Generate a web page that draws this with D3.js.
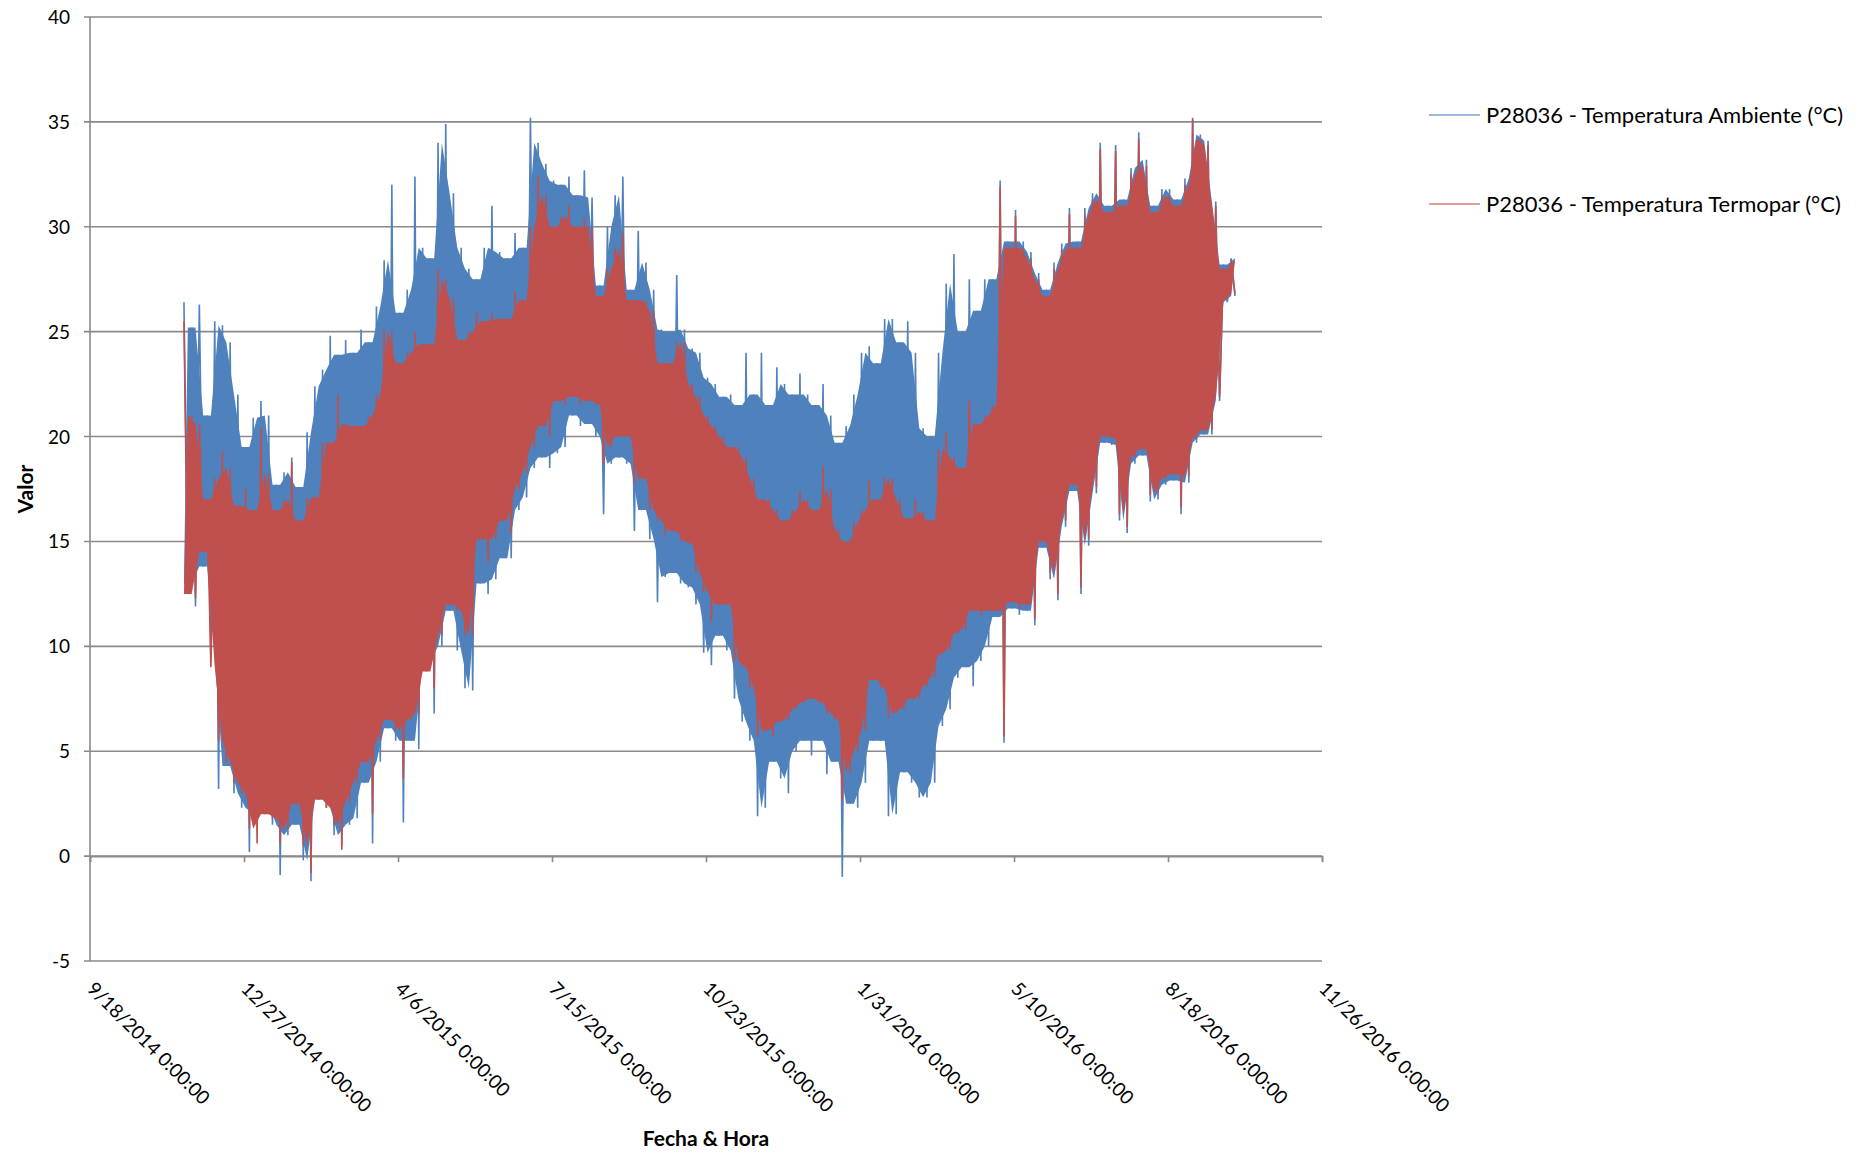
<!DOCTYPE html>
<html>
<head>
<meta charset="utf-8">
<script src="https://cdn.jsdelivr.net/npm/d3@7"></script>
<style>
body{margin:0;background:#fff;}
text{font-family:Lato,"Noto Sans",sans-serif;fill:#000;}
</style>
</head>
<body>
<svg id="chart" width="1865" height="1158"></svg>
<script>
// series sampled every 5 days, max and min in each window
var startDate = "11/18/2014";
var stepDays = 5;

var ambMax = [26.4,25.2,26.3,21.0,25.5,25.3,24.5,22.0,19.5,20.9,
  21.7,21.0,17.7,18.3,19.0,17.6,20.2,22.4,23.2,24.8,
  23.9,24.6,24.0,25.1,24.5,26.2,28.4,32.0,25.9,27.0,
  32.4,29.0,28.5,34.0,34.9,31.6,29.0,28.0,27.5,29.0,
  31.0,28.8,28.5,29.7,29.0,35.2,34.0,33.0,32.2,32.0,
  32.4,31.5,32.7,31.4,27.2,30.0,31.5,32.4,27.0,29.8,
  28.3,27.0,25.1,25.0,27.7,25.1,24.2,24.0,22.8,22.5,
  21.9,22.0,21.5,24.0,22.0,24.0,21.5,23.3,22.5,22.0,
  23.0,22.0,21.5,22.5,21.0,19.7,20.5,22.0,24.0,24.3,
  23.5,25.6,25.6,24.5,25.5,24.0,20.4,20.0,24.0,27.3,
  28.7,25.0,27.5,26.0,27.5,27.5,32.2,29.3,30.8,29.3,
  28.8,27.8,27.0,28.3,29.2,30.9,29.3,30.9,31.6,34.0,
  31.0,33.9,31.3,32.8,34.5,33.2,31.0,31.8,31.8,31.3,
  32.3,35.2,34.4,34.1,31.2,28.2,28.5];
var ambMin = [13.0,11.9,13.8,9.5,3.2,4.3,3.0,2.3,0.2,2.0,
  2.5,1.5,-0.9,1.0,1.5,-0.2,-1.2,2.7,2.3,1.0,
  0.5,1.5,1.8,3.5,0.6,4.5,6.1,5.5,1.6,5.5,
  5.1,9.3,6.8,10.0,11.7,9.8,8.0,7.9,13.0,12.5,
  13.2,14.2,14.2,16.5,17.1,18.5,19.0,18.5,19.2,19.5,
  21.0,20.5,20.6,20.0,16.3,18.7,19.0,18.7,15.5,16.5,
  15.1,12.1,13.3,13.5,13.0,12.8,12.0,9.7,9.1,10.5,
  9.8,7.5,6.4,5.5,1.9,2.3,4.5,3.7,3.0,5.0,
  5.5,4.8,5.5,3.9,4.5,-1.0,2.5,2.3,3.5,5.5,
  5.5,1.9,2.0,4.0,3.5,2.8,2.8,3.5,6.2,7.0,
  8.5,9.0,8.1,9.3,10.0,11.4,5.4,11.8,11.5,11.7,
  11.0,14.7,13.2,12.2,15.7,17.4,12.5,14.8,17.3,19.7,
  19.6,16.0,15.4,18.7,19.1,16.9,17.0,17.7,17.9,16.3,
  17.8,19.7,20.1,20.1,21.7,26.4,26.7];
var termMax = [25.5,21.0,20.6,17.0,18.0,19.3,18.5,16.7,17.5,16.5,
  20.4,18.2,16.5,17.0,18.8,16.0,17.1,17.1,19.7,19.7,
  22.0,20.6,20.5,20.5,21.0,22.0,25.1,25.0,23.5,24.0,
  25.0,24.4,24.4,28.0,27.5,26.6,24.6,25.0,25.9,25.5,
  25.9,25.6,25.6,26.9,26.5,30.0,32.4,31.5,30.0,30.5,
  31.0,30.0,30.4,30.0,26.7,28.0,29.0,29.7,26.5,26.5,
  26.5,26.0,23.5,23.5,24.5,24.5,22.5,21.9,21.0,20.5,
  20.0,19.5,19.5,19.0,18.0,17.0,17.0,16.5,16.0,16.5,
  17.4,17.0,16.5,18.6,17.5,15.6,15.0,15.9,16.5,17.9,
  17.0,18.1,18.0,17.0,16.1,17.0,16.4,16.0,19.4,20.2,
  19.0,18.5,21.7,20.6,21.0,21.5,31.9,29.0,30.5,29.0,
  28.5,27.5,26.7,28.0,28.9,30.6,29.0,30.6,31.3,33.7,
  30.7,33.6,31.0,32.5,34.2,32.9,30.7,31.5,31.5,31.0,
  32.0,35.1,34.2,33.9,31.0,28.0,28.4];
var termMin = [12.5,12.3,14.5,9.0,5.5,4.5,3.5,3.0,1.3,0.6,
  2.0,1.8,0.6,1.3,2.5,0.5,-0.8,2.7,2.3,1.5,
  0.3,2.6,3.5,4.5,2.0,5.5,6.5,6.0,3.7,6.5,
  6.8,8.8,8.0,10.5,12.0,11.7,10.5,10.5,15.1,14.0,
  15.1,16.0,15.4,17.5,18.3,19.5,20.5,20.0,21.7,21.5,
  21.9,21.5,21.7,21.5,18.7,19.5,20.0,20.0,17.8,18.0,
  16.5,16.0,15.3,15.5,15.0,14.9,13.5,12.6,11.2,12.0,
  12.0,9.3,9.0,8.0,5.7,6.0,5.7,6.4,6.5,7.0,
  7.3,7.5,7.3,6.8,6.5,2.6,4.0,5.0,6.0,8.4,
  8.0,6.6,6.8,7.0,7.5,7.5,8.1,8.5,9.6,9.8,
  10.6,10.8,11.7,11.5,11.7,11.7,5.7,12.1,11.8,12.0,
  11.3,15.0,13.5,12.5,16.0,17.7,12.8,15.1,17.6,20.0,
  19.9,16.3,15.7,19.0,19.4,17.2,17.3,18.0,18.2,16.6,
  18.1,19.9,20.3,20.3,21.9,26.5,26.8];

var xTickLabels = ["9/18/2014","12/27/2014","4/6/2015","7/15/2015","10/23/2015",
  "1/31/2016","5/10/2016","8/18/2016","11/26/2016"];
var yTickValues = [-5,0,5,10,15,20,25,30,35,40];
var seriesNames = ["P28036 - Temperatura Ambiente (°C)","P28036 - Temperatura Termopar (°C)"];
var seriesColors = ["#4f81bd","#c0504d"];

var parse = d3.utcParse("%m/%d/%Y");
var svg = d3.select("#chart");

var xScale = d3.scaleUtc()
    .domain([parse(xTickLabels[0]), parse(xTickLabels[xTickLabels.length-1])])
    .range([90, 1322]);
var yScale = d3.scaleLinear().domain([-5, 40]).range([961, 17]);

// gridlines
svg.append("g").selectAll("line")
  .data(yTickValues).enter().append("line")
    .attr("x1", 84).attr("x2", 1322)
    .attr("y1", function(d){ return yScale(d); })
    .attr("y2", function(d){ return yScale(d); })
    .attr("stroke", "#8a8a8a").attr("stroke-width", 1.6);

// y axis line
svg.append("line")
  .attr("x1", 90).attr("x2", 90).attr("y1", yScale(40)).attr("y2", yScale(-5))
  .attr("stroke", "#8a8a8a").attr("stroke-width", 1.6);

svg.append("g").selectAll("text")
  .data(yTickValues).enter().append("text")
    .attr("x", 70)
    .attr("y", function(d){ return yScale(d) + 7; })
    .attr("text-anchor", "end")
    .style("font-size", "19px")
    .text(function(d){ return d; });

// x axis sits on zero
var xAxis = d3.axisBottom(xScale)
    .tickValues(xTickLabels.map(parse))
    .tickSize(6)
    .tickFormat("");
var gx = svg.append("g")
    .attr("transform", "translate(0," + yScale(0) + ")")
    .call(xAxis);
gx.select(".domain").attr("stroke", "#8a8a8a").attr("stroke-width", 1.6);
gx.selectAll(".tick line").attr("stroke", "#8a8a8a").attr("stroke-width", 1.6);

svg.append("g").selectAll("text")
  .data(xTickLabels).enter().append("text")
    .attr("transform", function(d){ return "translate(" + (xScale(parse(d)) - 4) + ",990) rotate(45)"; })
    .style("font-size", "19px")
    .text(function(d){ return d + " 0:00:00"; });

// axis titles
svg.append("text")
  .attr("transform", "translate(33," + yScale(17.5) + ") rotate(-90)")
  .attr("text-anchor", "middle")
  .style("font-size", "21px").style("font-weight", "bold")
  .text("Valor");
svg.append("text")
  .attr("x", 706).attr("y", 1146)
  .attr("text-anchor", "middle")
  .style("font-size", "21px").style("font-weight", "bold")
  .text("Fecha & Hora");

var t0 = parse(startDate);
function maxDate(i){ return d3.utcDay.offset(t0, stepDays*i); }
function minDate(i){ return d3.utcHour.offset(t0, 24*stepDays*i + 12*stepDays); }

function drawSeries(maxArr, minArr, color){
  var n = maxArr.length;
  var idx = d3.range(n);
  var line = d3.line()
    .x(function(d){ return xScale(d[0]); })
    .y(function(d){ return yScale(d[1]); });

  // solid core: top corners sit at the troughs under the lower of two peaks,
  // bottom corners sit at the peaks over the higher of two troughs
  var top = [], bottom = [];
  idx.forEach(function(i){
    var j = Math.min(i+1, n-1), k = Math.max(i-1, 0);
    top.push([minDate(i), Math.min(maxArr[i], maxArr[j])]);
    bottom.push([maxDate(i), Math.max(minArr[i], minArr[k])]);
  });
  svg.append("path")
    .attr("d", line(top.concat(bottom.reverse())) + "Z")
    .attr("fill", color);

  var pts = [];
  idx.forEach(function(i){
    pts.push([maxDate(i), maxArr[i]]);
    pts.push([minDate(i), minArr[i]]);
  });
  svg.append("path")
    .attr("d", line(pts))
    .attr("fill", "none")
    .attr("stroke", color)
    .attr("stroke-width", 1.6)
    .attr("stroke-linejoin", "bevel");
}

drawSeries(ambMax, ambMin, seriesColors[0]);
drawSeries(termMax, termMin, seriesColors[1]);

// legend
var legend = svg.append("g").selectAll("g")
  .data(seriesNames).enter().append("g")
    .attr("transform", function(d, i){ return "translate(1429," + (115 + i*89) + ")"; });
legend.append("line")
  .attr("x1", 0).attr("x2", 51)
  .attr("stroke", function(d, i){ return seriesColors[i]; })
  .attr("stroke-opacity", 0.75)
  .attr("stroke-width", 1.3);
legend.append("text")
  .attr("x", 57).attr("y", 8)
  .style("font-size", "22px")
  .text(function(d){ return d; });
</script>
</body>
</html>
